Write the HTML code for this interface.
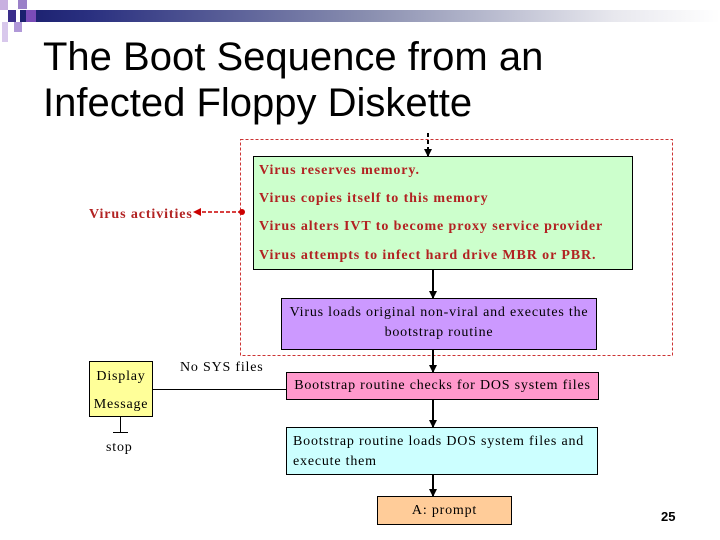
<!DOCTYPE html>
<html><head><style>
body{margin:0;width:720px;height:540px;background:#fff;position:relative;overflow:hidden;font-family:"Liberation Serif",serif}
.a{position:absolute}
.t{font-family:"Liberation Sans",sans-serif;font-size:40px;left:43px;line-height:46px}
.box{position:absolute;border:1px solid #000;box-sizing:border-box;font-size:14px;letter-spacing:0.8px}
.red{color:#b22222;font-weight:bold;font-size:14px;position:absolute;letter-spacing:0.9px}
</style></head><body>
<div class="a" style="left:20px;top:10px;width:700px;height:12px;background:linear-gradient(90deg,#1a1f6e,#2a3080 10%,#8a8fb0 50%,#e8e8ee 85%,#fff)"></div>
<div class="a" style="left:0;top:0;width:8px;height:10px;background:#c8b0e0"></div>
<div class="a" style="left:8px;top:10px;width:8px;height:12px;background:#3a2e8a"></div>
<div class="a" style="left:18px;top:0;width:9px;height:9px;background:#9a80c8"></div>
<div class="a" style="left:26px;top:10px;width:10px;height:12px;background:#7a4cb8"></div>
<div class="a" style="left:2px;top:22px;width:6px;height:20px;background:#d8c8ec"></div>
<div class="a" style="left:14px;top:22px;width:8px;height:10px;background:#b098d8"></div>
<div class="a t" style="top:34px">The Boot Sequence from an</div>
<div class="a t" style="top:80px">Infected Floppy Diskette</div>
<svg class="a" style="left:0;top:0" width="720" height="540">
<defs><marker id="ar" markerWidth="8" markerHeight="8" refX="7" refY="4" orient="auto" markerUnits="userSpaceOnUse"><path d="M0,0 L8,4 L0,8z" fill="#000"/></marker>
<marker id="rr" markerWidth="8" markerHeight="8" refX="7" refY="4" orient="auto" markerUnits="userSpaceOnUse"><path d="M0,0 L8,4 L0,8z" fill="#c00"/></marker></defs>
<rect x="240.5" y="139.5" width="432" height="216" fill="none" stroke="#c33" stroke-dasharray="3,2"/>
<line x1="428" y1="133" x2="428" y2="156" stroke="#000" stroke-width="2" stroke-dasharray="4,3" marker-end="url(#ar)"/>
<line x1="242" y1="212" x2="194" y2="212" stroke="#c00" stroke-width="1.5" stroke-dasharray="4,2" marker-end="url(#rr)"/>
<circle cx="242" cy="212" r="3" fill="#c00"/>
<line x1="433" y1="270" x2="433" y2="298" stroke="#000" stroke-width="2" marker-end="url(#ar)"/>
<line x1="433" y1="350" x2="433" y2="372" stroke="#000" stroke-width="2" marker-end="url(#ar)"/>
<line x1="433" y1="399" x2="433" y2="427" stroke="#000" stroke-width="2" marker-end="url(#ar)"/>
<line x1="433" y1="474" x2="433" y2="496" stroke="#000" stroke-width="2" marker-end="url(#ar)"/>
<line x1="153" y1="389.5" x2="286" y2="389.5" stroke="#000"/>
<line x1="120.5" y1="417" x2="120.5" y2="432" stroke="#000"/>
<line x1="113" y1="432.5" x2="128" y2="432.5" stroke="#000"/>
</svg>
<div class="box" style="left:253px;top:156px;width:380px;height:114px;background:#ccffcc"></div>
<div class="red" style="left:259px;top:163px">Virus reserves memory.</div>
<div class="red" style="left:259px;top:191px">Virus copies itself to this memory</div>
<div class="red" style="left:259px;top:219px">Virus alters IVT to become proxy service provider</div>
<div class="red" style="left:259px;top:248px">Virus attempts to infect hard drive MBR or PBR.</div>
<div class="red" style="left:89px;top:207px">Virus activities</div>
<div class="box" style="left:281px;top:298px;width:316px;height:52px;background:#cc99ff;text-align:center;padding-top:4px;line-height:20px">Virus loads original non-viral and executes the bootstrap routine</div>
<div class="box" style="left:286px;top:372px;width:313px;height:28px;background:#ff99cc;text-align:center;line-height:26px">Bootstrap routine checks for DOS system files</div>
<div class="box" style="left:286px;top:427px;width:312px;height:48px;background:#ccffff;padding:4px 6px;line-height:20px">Bootstrap routine loads DOS system files and execute them</div>
<div class="box" style="left:377px;top:496px;width:135px;height:29px;background:#ffcc99;text-align:center;line-height:28px">A: prompt</div>
<div class="box" style="left:89px;top:361px;width:64px;height:56px;background:#ffff99;text-align:center;line-height:28px;padding-top:1px">Display<br>Message</div>
<div class="a" style="left:180px;top:360px;font-size:14px;letter-spacing:0.8px">No SYS files</div>
<div class="a" style="left:106px;top:440px;font-size:14px;letter-spacing:0.8px">stop</div>
<div class="a" style="left:661px;top:509px;font-family:'Liberation Sans',sans-serif;font-weight:bold;font-size:13px">25</div>
</body></html>
